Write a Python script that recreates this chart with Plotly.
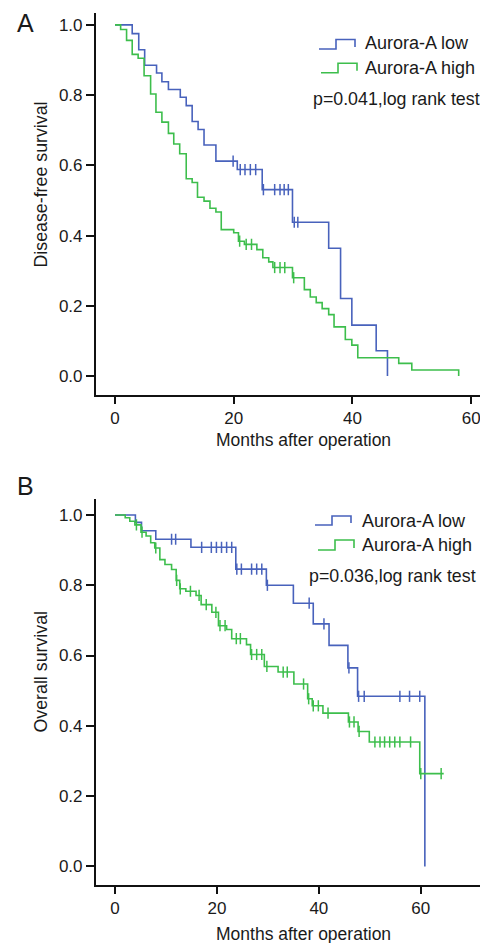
import plotly.graph_objects as go

# ---------------- data ----------------
# Panel A: disease-free survival
A_low_t = [0, 2.9, 4.0, 5.0, 7.0, 7.9, 9.0, 11.0, 12.0, 13.0, 14.0, 15.0, 17.0, 20.6, 24.8, 29.9, 36.0, 38.0, 39.9, 44.0, 45.9]
A_low_s = [1.0, 0.975, 0.929, 0.885, 0.863, 0.838, 0.816, 0.794, 0.770, 0.725, 0.702, 0.658, 0.612, 0.588, 0.531, 0.438, 0.364, 0.221, 0.145, 0.072, 0.0]
A_low_end = 45.9
A_low_cens = [19.9, 21.1, 21.9, 22.8, 23.7, 25.0, 26.9, 27.8, 28.5, 29.2, 30.2, 30.8]

A_high_t = [0, 0.95, 1.95, 2.9, 3.9, 4.9, 6.0, 6.9, 7.9, 9.0, 9.9, 10.9, 12.0, 13.0, 13.9, 15.0, 16.0, 17.0, 17.9, 20.0, 20.8, 21.8, 23.9, 24.9, 25.9, 26.6, 29.9, 31.9, 32.9, 33.9, 34.9, 36.0, 36.9, 38.8, 39.9, 40.9, 47.8, 50.0, 57.9]
A_high_s = [1.0, 0.987, 0.956, 0.916, 0.905, 0.855, 0.803, 0.751, 0.723, 0.691, 0.661, 0.633, 0.562, 0.551, 0.509, 0.498, 0.478, 0.467, 0.417, 0.408, 0.384, 0.375, 0.360, 0.337, 0.325, 0.309, 0.280, 0.246, 0.225, 0.209, 0.192, 0.175, 0.140, 0.104, 0.088, 0.052, 0.036, 0.017, 0.0]
A_high_end = 57.9
A_high_cens = [21.0, 22.1, 23.0, 26.9, 27.8, 28.6, 30.1]

# Panel B: overall survival
B_low_t = [0, 4.0, 5.2, 8.0, 14.9, 23.7, 29.7, 35.0, 38.9, 42.0, 45.7, 47.6, 60.8]
B_low_s = [1.0, 0.979, 0.955, 0.931, 0.908, 0.846, 0.800, 0.749, 0.690, 0.629, 0.565, 0.484, 0.0]
B_low_end = 60.8
B_low_cens = [11.1, 11.9, 17.0, 18.9, 19.9, 20.9, 21.9, 22.9, 23.9, 24.8, 26.8, 27.8, 28.8, 29.9,
              38.1, 41.0, 45.9, 47.8, 48.9, 55.9, 57.8, 59.8]

B_high_t = [0, 2.0, 2.9, 3.9, 5.1, 6.1, 7.0, 7.8, 8.8, 9.8, 11.1, 12.0, 12.7, 13.9, 15.9, 16.9, 19.0, 20.3, 21.9, 22.9, 25.8, 26.6, 29.3, 32.0, 35.1, 37.8, 38.7, 40.8, 45.8, 47.7, 49.9, 59.8]
B_high_s = [1.0, 0.992, 0.982, 0.972, 0.951, 0.940, 0.921, 0.906, 0.873, 0.859, 0.845, 0.814, 0.790, 0.783, 0.771, 0.745, 0.723, 0.685, 0.674, 0.648, 0.631, 0.603, 0.569, 0.553, 0.519, 0.477, 0.457, 0.436, 0.411, 0.384, 0.354, 0.264]
B_high_end = 64.5
B_high_cens = [4.2, 5.3, 8.0, 12.1, 12.8, 14.8, 16.5, 17.9, 19.8, 20.6, 21.6, 23.8, 24.6, 26.8, 27.8, 28.8, 29.8,
               33.0, 33.8, 37.0, 38.0, 38.9, 39.9, 41.8, 46.0, 46.9, 47.9, 51.0, 52.0, 52.9, 53.9, 54.9, 55.9, 58.0, 60.0, 64.0]

x_ticks = [0, 20, 40, 60]
y_ticks = [0.0, 0.2, 0.4, 0.6, 0.8, 1.0]
legend_names = ["Aurora-A low", "Aurora-A high"]
x_title = "Months after operation"
y_title_A = "Disease-free survival"
y_title_B = "Overall survival"
p_text_A = "p=0.041,log rank test"
p_text_B = "p=0.036,log rank test"

# ---------------- style ----------------
OFF = 8                      # default body margin of the written page
W, H = 488 - OFF, 943 - OFF  # figure size so it fits the window
BLUE = "#4862BC"
GREEN = "#3DBE4C"
FONT = "Liberation Sans, Arial, sans-serif"
TXT = "#1a1a1a"


def px2x(sx):
    return (sx - OFF) / W


def px2y(sy):
    return 1 - (sy - OFF) / H


def step_at(ts, ss, t):
    val = ss[0]
    for ti, si in zip(ts, ss):
        if ti <= t:
            val = si
    return val


fig = go.Figure()

curves = [
    ("A", A_low_t, A_low_s, A_low_end, A_low_cens, BLUE, legend_names[0]),
    ("A", A_high_t, A_high_s, A_high_end, A_high_cens, GREEN, legend_names[1]),
    ("B", B_low_t, B_low_s, B_low_end, B_low_cens, BLUE, legend_names[0]),
    ("B", B_high_t, B_high_s, B_high_end, B_high_cens, GREEN, legend_names[1]),
]

for panel, ts, ss, end, cens, col, name in curves:
    xa, ya = ("x", "y") if panel == "A" else ("x2", "y2")
    xs = list(ts)
    ys = list(ss)
    if end > xs[-1]:
        xs.append(end)
        ys.append(ss[-1])
    fig.add_trace(go.Scatter(x=xs, y=ys, mode="lines", line=dict(color=col, width=1.6, shape="hv"),
                             xaxis=xa, yaxis=ya, name=name, showlegend=False, hoverinfo="skip"))
    cy = [step_at(ts, ss, c) for c in cens]
    fig.add_trace(go.Scatter(x=cens, y=cy, mode="markers",
                             marker=dict(symbol="line-ns-open", size=8, color=col,
                                         line=dict(color=col, width=1.5)),
                             xaxis=xa, yaxis=ya, showlegend=False, hoverinfo="skip"))

axis_common = dict(showgrid=False, zeroline=False, showline=True, linecolor="#111", linewidth=1.5,
                   ticks="outside", tickcolor="#111", tickwidth=1.5,
                   tickfont=dict(family=FONT, size=17, color=TXT))

fig.update_layout(
    width=W, height=H, margin=dict(l=0, r=0, t=0, b=0),
    paper_bgcolor="white", plot_bgcolor="white", showlegend=False,
    xaxis=dict(domain=[px2x(95.7), px2x(486)], range=[-3.25, 62.5], tickvals=x_ticks, ticklen=7,
               anchor="y", **axis_common),
    yaxis=dict(domain=[px2y(395), px2y(13.3)], range=[-0.054, 1.033], tickvals=y_ticks, tickformat=".1f",
               ticklen=8, anchor="x", **axis_common),
    xaxis2=dict(domain=[px2x(95.7), px2x(486)], range=[-3.79, 72.8], tickvals=x_ticks, ticklen=7,
                anchor="y2", **axis_common),
    yaxis2=dict(domain=[px2y(885), px2y(499)], range=[-0.053, 1.0455], tickvals=y_ticks, tickformat=".1f",
                ticklen=8, anchor="x2", **axis_common),
)

annots = []


def txt(x, y, text, size=17.5, xanchor="left", angle=0):
    annots.append(dict(x=px2x(x), y=px2y(y), xref="paper", yref="paper", text=text, showarrow=False,
                       xanchor=xanchor, yanchor="middle", textangle=angle, borderpad=0,
                       font=dict(family=FONT, size=size, color=TXT)))


# panel letters
txt(16, 23, "A", size=25)
txt(16, 486, "B", size=25)
# axis titles
txt(303, 440, x_title, xanchor="center")
txt(303.7, 934, x_title, xanchor="center")
txt(40.5, 185, y_title_A, size=17.8, xanchor="center", angle=-90)
txt(40.5, 672, y_title_B, size=17.8, xanchor="center", angle=-90)
# legend texts
txt(364, 43, legend_names[0], size=18)
txt(364, 68.5, legend_names[1], size=18)
txt(312, 99, p_text_A, size=17.8)
txt(361, 520.5, legend_names[0], size=18)
txt(361, 545, legend_names[1], size=18)
txt(308, 576, p_text_B, size=17.8)
fig.update_layout(annotations=annots)


# legend step glyphs
def glyph(x0, yb, yt, col):
    pts = [(x0, yb), (x0 + 17, yb), (x0 + 17, yt), (x0 + 36, yt), (x0 + 36, yb - 2)]
    path = "M " + " L ".join(f"{px2x(a):.5f},{px2y(b):.5f}" for a, b in pts)
    fig.add_shape(type="path", path=path, xref="paper", yref="paper", line=dict(color=col, width=1.6))


glyph(319, 49, 39.5, BLUE)
glyph(321, 72.7, 63.3, GREEN)
glyph(315, 525, 516, BLUE)
glyph(318, 550, 540, GREEN)

fig.write_html("out.html")
